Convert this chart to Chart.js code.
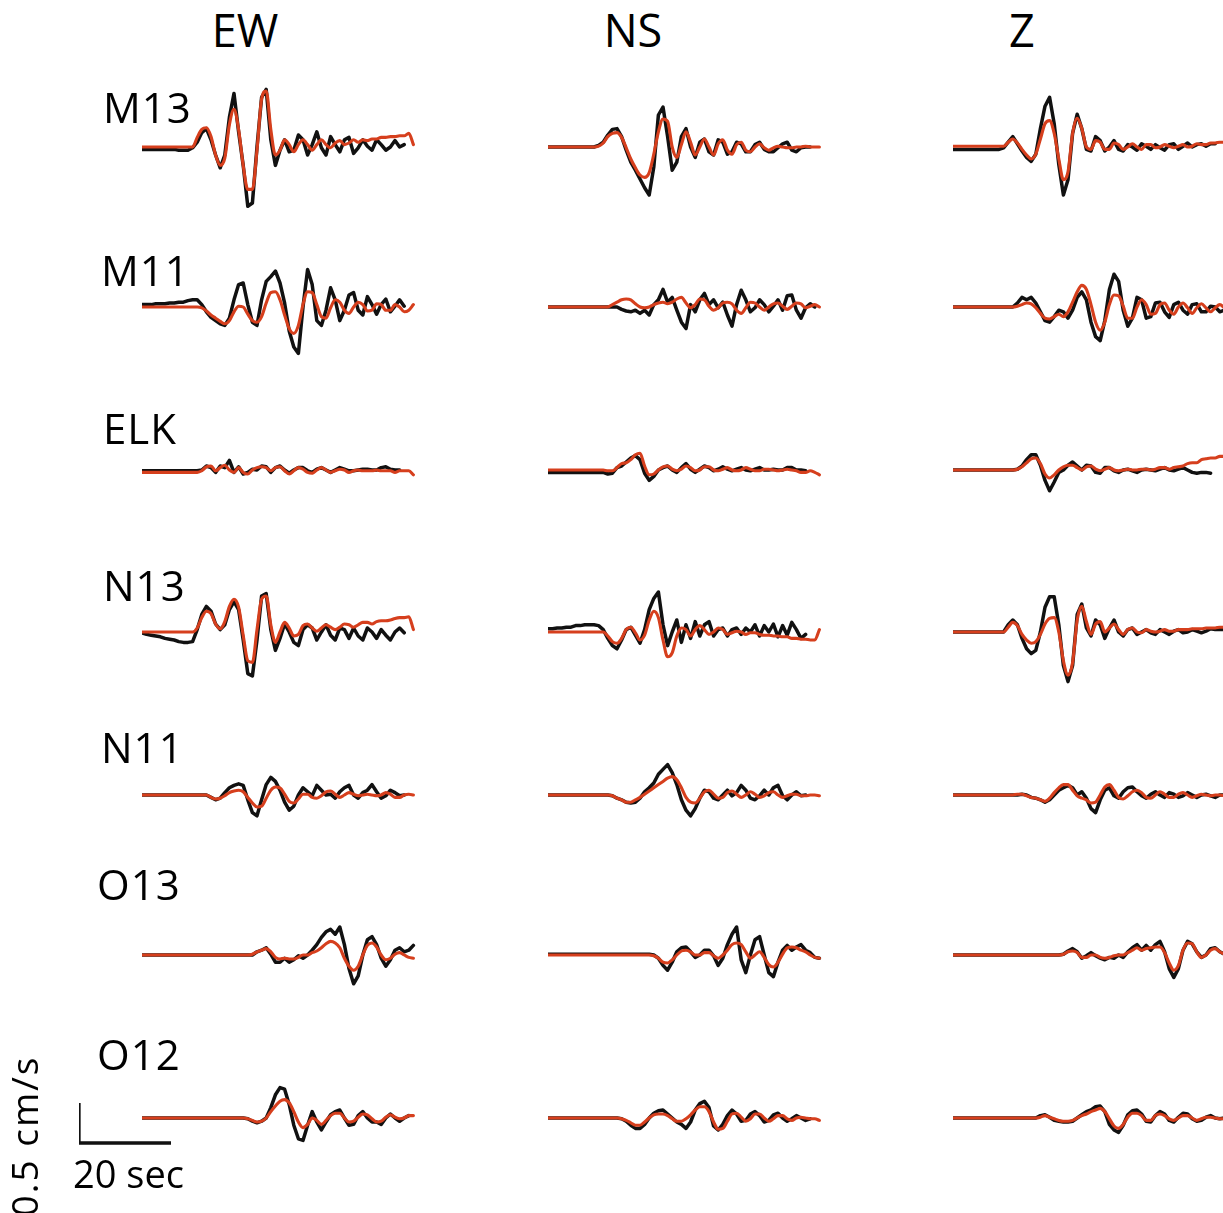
<!DOCTYPE html>
<html>
<head>
<meta charset="utf-8">
<script src="https://cdn.jsdelivr.net/npm/chart.js@4.4.1/dist/chart.umd.min.js"></script>
<style>
html, body { margin: 0; padding: 0; background: #fff; }
body { width: 1223px; height: 1213px; position: relative; overflow: hidden; font-family: 'Open Sans', sans-serif; color: #000; }
.panel { position: absolute; }
.lbl { position: absolute; line-height: 1; white-space: nowrap; }
.hdr { font-size: 45px; transform: translateX(-50%); }
.sta { font-size: 42px; letter-spacing: 1px; }
</style>
</head>
<body>
<script>
// time axis of every trace (s), one sample per second
const times = [0,1,2,3,4,5,6,7,8,9,10,11,12,13,14,15,16,17,18,19,20,21,22,23,24,25,26,27,28,29,
  30,31,32,33,34,35,36,37,38,39,40,41,42,43,44,45,46,47,48,49,50,51,52,53,54,55,56,57,58,59];
const stations = ['M13', 'M11', 'ELK', 'N13', 'N11', 'O13', 'O12'];
const components = ['EW', 'NS', 'Z'];
const scaleBarSeconds = 20;
const scaleBarVelocity = 0.5;   // cm/s

// ground velocity (cm/s): obs = recorded (black), syn = synthetic (red)
const obsM13EW = [-0.03,-0.03,-0.03,-0.03,-0.03,-0.03,-0.03,-0.03,-0.04,-0.04,-0.04,-0.01,0.06,0.18,0.23,0.09,-0.10,-0.26,-0.10,0.37,
  0.67,0.19,-0.23,-0.74,-0.70,0.00,0.62,0.72,0.09,-0.23,-0.04,0.09,-0.06,-0.04,0.15,0.09,-0.10,0.03,0.19,-0.01,
  -0.10,0.13,0.03,-0.06,0.09,0.12,-0.08,-0.01,0.09,0.01,-0.04,0.09,0.03,-0.04,0.00,0.08,0.00,0.03,null,null];
const synM13EW = [0,0,0,0,0,0,0,0,0,0,0,0.00,0.12,0.22,0.24,0.13,-0.10,-0.23,-0.14,0.28,
  0.47,0.22,-0.23,-0.53,-0.53,-0.04,0.60,0.70,0.22,-0.10,-0.04,0.09,0.03,-0.06,0.03,0.09,0.03,-0.04,0.03,0.09,
  0.03,-0.01,0.05,0.08,0.03,0.05,0.09,0.06,0.09,0.08,0.10,0.10,0.12,0.12,0.13,0.13,0.14,0.14,0.17,0.03];
const obsM13NS = [0,0,0,0,0,0,0,0,0,0,0,0.02,0.06,0.15,0.22,0.23,0.13,-0.04,-0.19,-0.29,
  -0.40,-0.51,-0.60,-0.25,0.40,0.50,0.13,-0.29,-0.19,0.13,0.23,0.00,-0.13,0.06,0.10,-0.06,-0.10,0.09,0.06,-0.09,
  -0.06,0.06,0.04,-0.06,-0.06,0.03,0.06,-0.03,-0.06,-0.06,-0.01,0.04,0.06,-0.04,-0.06,-0.01,0.00,0.00,null,null];
const synM13NS = [0,0,0,0,0,0,0,0,0,0,0,0.01,0.05,0.13,0.17,0.18,0.12,-0.01,-0.15,-0.26,
  -0.35,-0.38,-0.32,-0.09,0.19,0.35,0.32,0.00,-0.13,0.03,0.19,0.06,-0.10,0.00,0.10,0.00,-0.10,0.04,0.09,-0.04,
  -0.09,0.03,0.06,-0.04,-0.06,0.00,0.04,-0.01,-0.04,-0.01,0.01,0.00,-0.01,-0.01,0.00,0.00,0.01,0.00,0.00,0.00];
const obsM13Z = [-0.03,-0.03,-0.03,-0.03,-0.03,-0.03,-0.03,-0.03,-0.03,-0.03,-0.03,-0.01,0.06,0.13,0.04,-0.05,-0.13,-0.18,-0.09,0.23,
  0.51,0.62,0.29,-0.22,-0.60,-0.41,0.17,0.41,0.23,-0.03,-0.05,0.13,0.08,-0.05,0.00,0.08,-0.03,-0.05,0.03,0.00,
  -0.04,0.04,0.01,-0.03,0.03,-0.01,-0.04,0.03,0.04,-0.03,0.01,0.05,0.00,0.03,0.04,0.01,0.04,0.04,null,null];
const synM13Z = [0.01,0.01,0.01,0.01,0.01,0.01,0.01,0.01,0.01,0.01,0.01,0.01,0.06,0.10,0.05,-0.03,-0.10,-0.15,-0.09,0.10,
  0.29,0.33,0.17,-0.15,-0.41,-0.31,0.17,0.36,0.23,0.00,-0.03,0.08,0.06,-0.03,-0.03,0.05,0.03,-0.03,0.00,0.04,
  0.00,-0.03,0.03,0.03,-0.01,0.00,0.03,0.01,-0.01,0.01,0.03,0.00,0.01,0.04,0.03,0.03,0.05,0.05,0.06,0.06];

const obsM11EW = [0.03,0.03,0.03,0.04,0.04,0.04,0.05,0.05,0.06,0.06,0.08,0.09,0.09,0.03,-0.06,-0.13,-0.17,-0.21,-0.23,-0.14,
  0.09,0.28,0.30,0.03,-0.19,-0.23,0.09,0.32,0.38,0.45,0.30,0.05,-0.30,-0.50,-0.58,0.00,0.47,0.28,-0.17,-0.23,
  -0.04,0.24,0.09,-0.17,-0.04,0.15,0.18,-0.04,-0.10,0.13,0.03,-0.09,0.03,0.10,-0.06,0.01,0.09,0.01,null,null];
const synM11EW = [0,0,0,0,0,0,0,0,0,0,0,0,0,-0.01,-0.05,-0.10,-0.14,-0.18,-0.21,-0.17,
  -0.06,0.01,0.00,-0.09,-0.17,-0.19,-0.12,0.05,0.18,0.19,0.09,-0.10,-0.27,-0.33,-0.23,0.03,0.19,0.18,0.03,-0.12,
  -0.14,-0.01,0.09,0.06,-0.04,-0.08,0.00,0.06,0.03,-0.05,-0.04,0.04,0.03,-0.04,-0.04,0.03,0.00,-0.06,-0.04,0.03];
const obsM11NS = [0,0,0,0,0,0,0,0,0,0,0,0,0,0,0,0,-0.03,-0.05,-0.06,-0.04,
  -0.08,-0.04,-0.10,0.03,0.09,0.22,0.06,0.12,-0.04,-0.19,-0.27,0.03,-0.06,0.09,0.17,0.03,0.09,-0.01,0.06,-0.10,
  -0.24,0.03,0.21,0.09,-0.06,-0.01,0.09,0.03,-0.06,0.01,0.09,-0.04,0.14,0.15,-0.04,-0.14,-0.01,0.04,0.00,null];
const synM11NS = [0,0,0,0,0,0,0,0,0,0,0,0,0,0,0.03,0.06,0.09,0.10,0.09,0.04,
  0.00,-0.01,0.00,0.03,0.05,0.06,0.04,0.06,0.10,0.12,0.05,-0.01,0.03,0.10,0.09,0.01,-0.04,-0.01,0.05,0.06,
  0.04,-0.04,-0.08,-0.01,0.06,0.05,0.00,-0.04,0.00,0.04,0.05,0.01,-0.03,0.01,0.05,0.04,-0.01,0.01,0.03,0.00];
const obsM11Z = [0,0,0,0,0,0,0,0,0,0,0,0,0,0,0.05,0.12,0.09,0.12,0.05,-0.06,
  -0.17,-0.19,-0.12,-0.04,-0.06,-0.14,-0.04,0.12,0.19,0.09,-0.19,-0.37,-0.42,-0.17,0.22,0.41,0.32,-0.04,-0.24,-0.14,
  0.12,0.09,-0.14,-0.12,0.05,0.06,-0.06,-0.13,0.03,0.06,-0.04,-0.09,0.03,0.04,-0.06,-0.06,0.01,0.00,-0.06,-0.04];
const synM11Z = [0,0,0,0,0,0,0,0,0,0,0,0,0,0,0.01,0.03,0.05,0.04,-0.01,-0.08,
  -0.14,-0.15,-0.12,-0.09,-0.12,-0.06,0.06,0.19,0.27,0.22,0.03,-0.19,-0.29,-0.19,0.03,0.15,0.14,0.01,-0.14,-0.14,
  0.00,0.09,0.03,-0.09,-0.08,0.03,0.05,-0.04,-0.09,0.00,0.05,-0.01,-0.08,-0.01,0.04,-0.01,-0.06,-0.01,0.03,-0.01];

const obsELKEW = [-0.01,-0.01,-0.01,-0.01,-0.01,-0.01,-0.01,-0.01,-0.01,-0.01,-0.01,-0.01,-0.01,0.00,0.05,0.03,-0.03,0.05,0.03,0.12,
  -0.03,0.04,-0.05,-0.03,0.01,0.00,0.05,0.04,-0.03,0.03,0.05,0.00,-0.04,0.00,0.03,0.03,-0.01,-0.03,0.01,0.03,
  0.00,-0.03,0.00,0.03,0.01,-0.01,-0.01,0.00,0.01,0.01,0.00,0.00,0.03,0.04,0.01,0.00,0.00,null,null,null];
const synELKEW = [-0.03,-0.03,-0.03,-0.03,-0.03,-0.03,-0.03,-0.03,-0.03,-0.03,-0.03,-0.03,-0.03,-0.01,0.04,0.05,-0.01,0.03,0.06,0.00,
  -0.03,0.03,-0.03,-0.05,0.00,0.03,0.04,0.03,-0.01,0.03,0.04,-0.01,-0.05,-0.01,0.03,0.01,-0.03,-0.04,0.00,0.03,
  0.00,-0.03,-0.01,0.01,0.00,-0.03,-0.01,0.00,-0.01,-0.01,-0.01,0.00,-0.01,-0.01,-0.01,-0.03,-0.01,-0.01,-0.01,-0.06];
const obsELKNS = [-0.03,-0.03,-0.03,-0.03,-0.03,-0.03,-0.03,-0.03,-0.03,-0.03,-0.03,-0.03,-0.03,-0.05,-0.04,0.03,0.05,0.10,0.15,0.18,
  0.13,-0.04,-0.13,-0.08,0.00,0.03,0.05,0.00,-0.03,0.03,0.08,0.01,-0.03,0.01,0.05,0.03,-0.01,0.01,0.04,0.01,
  -0.01,0.01,0.03,0.00,-0.01,0.01,0.03,0.00,0.00,0.01,0.00,0.00,0.03,0.03,0.00,0.00,-0.01,null,null,null];
const synELKNS = [0,0,0,0,0,0,0,0,0,0,0,0,0,-0.01,-0.01,0.03,0.08,0.09,0.13,0.19,
  0.21,0.05,-0.06,-0.05,0.00,0.04,0.05,0.01,-0.01,0.01,0.05,0.03,-0.01,0.00,0.04,0.04,0.00,-0.01,0.01,0.03,
  0.00,-0.01,0.00,0.03,0.01,-0.01,-0.01,0.01,0.01,0.00,-0.01,0.00,0.01,0.00,-0.01,-0.03,-0.03,-0.01,-0.03,-0.06];
const obsELKZ = [0,0,0,0,0,0,0,0,0,0,0,0,0,0,0.01,0.05,0.13,0.19,0.19,0.06,
  -0.13,-0.26,-0.15,-0.03,0.00,0.06,0.10,0.05,0.00,0.06,0.05,-0.03,-0.04,0.03,0.03,-0.01,-0.03,0.00,0.01,-0.01,
  -0.03,0.00,0.01,0.00,-0.01,0.01,0.03,0.00,-0.01,0.01,0.03,0.00,-0.03,-0.04,-0.03,-0.03,-0.04,null,null,null];
const synELKZ = [0,0,0,0,0,0,0,0,0,0,0,0,0,0,0.01,0.04,0.09,0.14,0.15,0.08,
  -0.05,-0.10,-0.06,0.00,0.04,0.06,0.06,0.03,0.00,0.04,0.05,0.01,-0.01,0.01,0.03,0.00,-0.01,0.00,0.01,0.00,
  0.00,0.01,0.01,0.00,0.01,0.03,0.03,0.01,0.03,0.04,0.05,0.08,0.09,0.09,0.13,0.14,0.15,0.15,0.17,0.17];

const obsN13EW = [-0.01,-0.03,-0.04,-0.05,-0.06,-0.08,-0.09,-0.10,-0.12,-0.13,-0.13,-0.12,0.03,0.22,0.32,0.26,0.10,0.03,0.09,0.28,
  0.38,0.28,-0.10,-0.52,-0.55,-0.10,0.45,0.48,0.03,-0.23,-0.08,0.10,0.00,-0.13,-0.17,0.03,0.09,0.05,-0.10,0.00,
  0.09,-0.04,-0.10,0.05,0.03,-0.08,0.05,-0.05,-0.10,0.05,0.00,-0.08,0.03,-0.04,-0.10,0.00,0.05,-0.01,null,null];
const synN13EW = [0,0,0,0,0,0,0,0,0,0,0,0,0.05,0.18,0.26,0.23,0.10,0.04,0.13,0.32,
  0.41,0.31,-0.04,-0.36,-0.38,0.03,0.41,0.45,0.09,-0.13,0.00,0.12,0.05,-0.05,-0.03,0.08,0.10,0.05,0.01,0.05,
  0.09,0.06,0.03,0.06,0.10,0.09,0.06,0.09,0.12,0.12,0.10,0.13,0.14,0.14,0.15,0.17,0.18,0.18,0.19,0.03];
const obsN13NS = [0.04,0.04,0.05,0.05,0.06,0.06,0.08,0.08,0.09,0.09,0.09,0.08,0.03,-0.08,-0.17,-0.21,-0.10,0.03,0.06,-0.04,
  -0.14,0.03,0.28,0.42,0.50,0.09,-0.17,0.00,0.15,-0.13,0.09,-0.08,0.13,-0.05,0.09,0.13,-0.05,0.03,0.05,-0.05,
  0.03,0.05,-0.03,0.05,0.00,0.09,-0.05,0.08,0.00,0.10,-0.06,0.08,-0.04,0.12,0.03,-0.08,-0.03,null,null,null];
const synN13NS = [0,0,0,0,0,0,0,0,0,0,0,0,0,-0.05,-0.12,-0.14,-0.08,0.03,0.06,-0.01,
  -0.10,-0.04,0.15,0.26,0.18,-0.10,-0.31,-0.26,-0.05,0.05,0.03,-0.05,0.03,0.08,0.03,-0.03,0.00,0.05,0.03,-0.03,
  -0.01,0.01,0.00,-0.03,-0.01,-0.01,-0.03,-0.04,-0.04,-0.05,-0.05,-0.06,-0.06,-0.08,-0.08,-0.09,-0.09,-0.10,-0.10,0.03];
const obsN13Z = [0,0,0,0,0,0,0,0,0,0,0,0,0.09,0.15,0.09,-0.08,-0.21,-0.27,-0.23,0.00,
  0.31,0.44,0.44,0.09,-0.42,-0.62,-0.42,0.22,0.35,0.05,-0.05,0.15,0.09,-0.08,0.05,0.15,0.00,-0.05,0.03,0.05,
  -0.03,0.00,0.03,-0.01,-0.03,0.03,0.00,-0.03,0.01,0.03,-0.01,0.00,0.03,0.01,-0.01,0.01,0.04,0.03,0.03,0.03];
const synN13Z = [0,0,0,0,0,0,0,0,0,0,0,0,0.06,0.12,0.08,-0.03,-0.10,-0.14,-0.12,-0.03,
  0.10,0.17,0.18,0.00,-0.36,-0.54,-0.38,0.15,0.32,0.13,-0.03,0.10,0.13,0.00,0.05,0.10,0.03,-0.03,0.03,0.05,
  0.00,-0.01,0.03,0.01,0.00,0.01,0.03,0.01,0.01,0.03,0.03,0.03,0.04,0.04,0.04,0.05,0.05,0.05,0.06,0.06];

const obsN11EW = [0,0,0,0,0,0,0,0,0,0,0,0,0,0,0,-0.03,-0.06,-0.04,0.03,0.09,
  0.12,0.14,0.12,-0.06,-0.22,-0.26,-0.06,0.13,0.22,0.17,0.06,-0.09,-0.19,-0.14,0.00,0.09,0.04,-0.01,0.12,0.06,
  0.00,0.01,-0.04,0.04,0.09,0.12,0.00,-0.04,0.03,0.06,0.13,0.04,-0.04,-0.01,0.06,0.03,-0.01,0.00,null,null];
const synN11EW = [0,0,0,0,0,0,0,0,0,0,0,0,0,0,0,-0.03,-0.05,-0.04,-0.01,0.03,
  0.05,0.06,0.04,-0.03,-0.10,-0.15,-0.14,-0.04,0.06,0.10,0.09,0.01,-0.08,-0.10,-0.05,0.01,0.01,-0.03,-0.04,-0.01,
  0.04,0.05,0.01,-0.03,0.00,0.03,0.01,-0.01,0.00,0.01,0.00,-0.01,0.00,0.03,0.01,-0.03,-0.03,0.00,0.01,0.00];
const obsN11NS = [0,0,0,0,0,0,0,0,0,0,0,0,0,0,-0.01,-0.04,-0.06,-0.09,-0.10,-0.09,
  -0.04,0.04,0.09,0.15,0.26,0.32,0.38,0.28,0.13,-0.06,-0.19,-0.26,-0.17,-0.04,0.06,0.04,-0.04,-0.06,0.00,0.06,
  -0.01,0.03,0.12,0.06,-0.04,-0.06,-0.01,0.06,0.00,0.09,0.12,-0.01,-0.06,0.00,0.04,-0.01,0.00,null,null,null];
const synN11NS = [0,0,0,0,0,0,0,0,0,0,0,0,0,0,-0.01,-0.04,-0.06,-0.09,-0.09,-0.06,
  -0.03,0.01,0.05,0.09,0.13,0.17,0.21,0.23,0.19,0.09,-0.03,-0.09,-0.10,-0.04,0.04,0.06,0.01,-0.04,-0.03,0.03,
  0.05,0.01,-0.03,0.00,0.04,0.01,-0.03,-0.01,0.03,0.04,0.00,-0.03,-0.01,0.01,0.01,-0.01,-0.01,0.00,0.00,-0.01];
const obsN11Z = [0,0,0,0,0,0,0,0,0,0,0,0,0,0,0,0.01,0.00,-0.03,-0.04,-0.06,
  -0.09,-0.06,0.00,0.06,0.09,0.12,0.09,0.00,0.04,-0.04,-0.17,-0.22,-0.06,0.06,0.09,-0.01,-0.04,0.04,0.09,0.10,
  0.04,-0.01,-0.04,0.01,0.04,0.00,-0.03,0.03,0.01,-0.03,-0.01,0.03,0.00,-0.03,0.00,0.01,-0.01,-0.03,0.00,0.00];
const synN11Z = [0,0,0,0,0,0,0,0,0,0,0,0,0,0,0.01,0.01,-0.01,-0.03,-0.04,-0.06,
  -0.08,-0.04,0.03,0.09,0.13,0.13,0.06,-0.01,-0.04,-0.06,-0.10,-0.09,0.00,0.10,0.13,0.06,-0.03,-0.05,-0.01,0.04,
  0.06,0.03,-0.03,-0.04,0.00,0.04,0.01,-0.03,-0.03,0.01,0.03,0.00,-0.03,-0.01,0.01,0.00,-0.01,0.00,0.00,-0.01];

const obsO13EW = [0,0,0,0,0,0,0,0,0,0,0,0,0,0,0,0,0,0,0,0,
  0,0,0,0,0,0.04,0.06,0.09,0.01,-0.09,-0.09,-0.04,-0.09,-0.06,-0.01,-0.04,0.00,0.06,0.13,0.22,
  0.29,0.32,0.26,0.35,0.13,-0.17,-0.36,-0.26,0.00,0.19,0.23,0.13,-0.04,-0.14,-0.06,0.06,0.09,0.04,0.06,0.12];
const synO13EW = [0,0,0,0,0,0,0,0,0,0,0,0,0,0,0,0,0,0,0,0,
  0,0,0,0,0.01,0.04,0.06,0.08,0.04,-0.03,-0.05,-0.04,-0.05,-0.05,-0.03,0.00,0.00,0.03,0.05,0.09,
  0.14,0.17,0.15,0.09,-0.04,-0.14,-0.19,-0.14,0.00,0.12,0.15,0.10,0.00,-0.06,-0.04,0.01,0.03,0.00,-0.03,-0.04];
const obsO13NS = [0.01,0.01,0.01,0.01,0.01,0.01,0.01,0.01,0.01,0.01,0.01,0.01,0.01,0.01,0.01,0.01,0.01,0.01,0.01,0.01,
  0.01,0.01,0.01,0.00,-0.04,-0.13,-0.19,-0.09,0.04,0.09,0.10,0.04,-0.03,0.00,0.06,0.06,-0.01,-0.13,-0.04,0.13,
  0.26,0.35,-0.06,-0.22,0.00,0.19,0.23,0.00,-0.22,-0.27,-0.09,0.06,0.12,0.06,0.10,0.13,0.06,0.03,-0.03,-0.04];
const synO13NS = [0,0,0,0,0,0,0,0,0,0,0,0,0,0,0,0,0,0,0,0,
  0,0,0,-0.01,-0.04,-0.09,-0.10,-0.06,0.00,0.05,0.06,0.04,0.00,0.00,0.03,0.03,-0.01,-0.04,0.00,0.06,
  0.13,0.15,0.13,0.04,-0.04,0.00,0.04,-0.03,-0.12,-0.15,-0.09,0.01,0.09,0.10,0.09,0.06,0.04,0.00,-0.03,-0.04];
const obsO13Z = [0,0,0,0,0,0,0,0,0,0,0,0,0,0,0,0,0,0,0,0,
  0,0,0,0,0.01,0.05,0.08,0.04,-0.04,-0.01,0.03,-0.01,-0.04,-0.06,-0.03,-0.04,0.00,-0.03,0.04,0.09,
  0.13,0.06,0.12,0.06,0.13,0.17,0.04,-0.17,-0.28,-0.17,0.06,0.17,0.14,0.04,-0.03,0.00,0.08,0.09,0.04,0.01];
const synO13Z = [0,0,0,0,0,0,0,0,0,0,0,0,0,0,0,0,0,0,0,0,
  0,0,0,0,0.01,0.04,0.05,0.03,-0.03,-0.03,0.00,0.00,-0.03,-0.04,-0.03,-0.01,0.00,0.00,0.03,0.06,
  0.09,0.06,0.08,0.09,0.10,0.10,0.03,-0.10,-0.19,-0.13,0.06,0.15,0.14,0.04,-0.03,0.00,0.06,0.08,0.04,0.01];

const obsO12EW = [0,0,0,0,0,0,0,0,0,0,0,0,0,0,0,0,0,0,0,0,
  0,0,0,-0.01,-0.04,-0.06,-0.04,0.00,0.13,0.29,0.38,0.36,0.17,-0.09,-0.26,-0.28,-0.09,0.08,-0.05,-0.15,
  -0.05,0.04,0.08,0.10,0.00,-0.09,-0.08,0.03,0.08,0.00,-0.05,-0.05,-0.08,0.00,0.05,0.00,-0.04,0.00,0.03,null];
const synO12EW = [0,0,0,0,0,0,0,0,0,0,0,0,0,0,0,0,0,0,0,0,
  0,0,0,-0.01,-0.03,-0.05,-0.04,0.00,0.08,0.15,0.21,0.23,0.19,0.08,-0.05,-0.12,-0.08,0.00,-0.03,-0.08,
  -0.03,0.03,0.06,0.06,0.00,-0.05,-0.04,0.01,0.05,0.04,-0.01,-0.05,-0.04,0.01,0.04,0.01,-0.01,0.00,0.03,0.03];
const obsO12NS = [0,0,0,0,0,0,0,0,0,0,0,0,0,0,0,0,-0.01,-0.04,-0.09,-0.13,
  -0.13,-0.08,0.00,0.06,0.09,0.10,0.05,0.00,-0.05,-0.08,-0.13,-0.05,0.10,0.18,0.21,0.13,-0.10,-0.15,-0.08,0.03,
  0.10,0.05,-0.04,-0.03,0.05,0.08,0.03,-0.05,-0.03,0.04,0.06,0.00,-0.04,-0.01,0.03,0.00,-0.03,-0.01,null,null];
const synO12NS = [0,0,0,0,0,0,0,0,0,0,0,0,0,0,0,0,-0.01,-0.03,-0.06,-0.09,
  -0.09,-0.05,0.00,0.04,0.05,0.05,0.03,-0.01,-0.04,-0.04,-0.01,0.04,0.10,0.14,0.14,0.08,-0.05,-0.14,-0.13,-0.04,
  0.05,0.06,0.01,-0.04,-0.01,0.05,0.05,0.00,-0.04,-0.01,0.03,0.03,-0.01,-0.03,0.00,0.01,0.00,-0.01,-0.01,-0.03];
const obsO12Z = [0,0,0,0,0,0,0,0,0,0,0,0,0,0,0,0,0,0,0.00,0.03,
  0.04,0.01,-0.03,-0.04,-0.05,-0.05,-0.04,0.00,0.04,0.08,0.10,0.14,0.15,0.08,-0.08,-0.15,-0.18,-0.09,0.04,0.09,
  0.10,0.05,-0.04,-0.05,0.03,0.08,0.05,-0.03,-0.05,0.01,0.06,0.05,-0.01,-0.04,-0.03,0.01,0.03,0.00,-0.01,0.00];
const synO12Z = [0,0,0,0,0,0,0,0,0,0,0,0,0,0,0,0,0,0,0.00,0.01,
  0.03,0.01,-0.01,-0.03,-0.04,-0.04,-0.03,0.00,0.03,0.05,0.08,0.10,0.12,0.08,-0.01,-0.10,-0.13,-0.08,0.01,0.06,
  0.06,0.03,-0.03,-0.03,0.03,0.05,0.03,-0.01,-0.03,0.00,0.03,0.03,0.00,-0.03,-0.01,0.01,0.01,0.00,-0.01,-0.01];

// station -> component -> [observed, synthetic]
const traces = {
  M13: { EW: [obsM13EW, synM13EW], NS: [obsM13NS, synM13NS], Z: [obsM13Z, synM13Z] },
  M11: { EW: [obsM11EW, synM11EW], NS: [obsM11NS, synM11NS], Z: [obsM11Z, synM11Z] },
  ELK: { EW: [obsELKEW, synELKEW], NS: [obsELKNS, synELKNS], Z: [obsELKZ, synELKZ] },
  N13: { EW: [obsN13EW, synN13EW], NS: [obsN13NS, synN13NS], Z: [obsN13Z, synN13Z] },
  N11: { EW: [obsN11EW, synN11EW], NS: [obsN11NS, synN11NS], Z: [obsN11Z, synN11Z] },
  O13: { EW: [obsO13EW, synO13EW], NS: [obsO13NS, synO13NS], Z: [obsO13Z, synO13Z] },
  O12: { EW: [obsO12EW, synO12EW], NS: [obsO12NS, synO12NS], Z: [obsO12Z, synO12Z] }
};

// page layout (px)
const colLeft = [142, 548, 953];
const rowBaseline = [147, 307, 470, 632, 795, 955, 1118];
const headerCenter = [245, 633, 1022];
const stationLabelPos = [[103, 123], [101, 286], [103, 444], [103, 601], [101, 763], [97, 900], [97, 1070]];
const PX_PER_SEC = 4.6;
const PX_PER_UNIT = 80;
const X_SPAN = 60;
const Y_SPAN = 1;
const BLACK = '#111111';
const RED = '#d63f1d';

function addLabel(text, cls, left, baseline, size) {
  const d = document.createElement('div');
  d.className = 'lbl ' + cls;
  d.textContent = text;
  d.style.left = left + 'px';
  d.style.top = (baseline - 0.888 * size) + 'px';
  document.body.appendChild(d);
  return d;
}

function makePanel(left, baseline, datasets) {
  const w = X_SPAN * PX_PER_SEC, h = 2 * Y_SPAN * PX_PER_UNIT;
  const box = document.createElement('div');
  box.className = 'panel';
  box.style.left = left + 'px';
  box.style.top = (baseline - Y_SPAN * PX_PER_UNIT) + 'px';
  box.style.width = w + 'px';
  box.style.height = h + 'px';
  const cv = document.createElement('canvas');
  cv.width = w; cv.height = h;
  box.appendChild(cv);
  document.body.appendChild(box);
  new Chart(cv.getContext('2d'), {
    type: 'line',
    data: { datasets: datasets },
    options: {
      responsive: false,
      animation: false,
      events: [],
      layout: { padding: 0 },
      plugins: { legend: { display: false }, tooltip: { enabled: false } },
      elements: { point: { radius: 0 }, line: { borderCapStyle: 'round', borderJoinStyle: 'round' } },
      scales: {
        x: { type: 'linear', min: 0, max: X_SPAN, display: false },
        y: { type: 'linear', min: -Y_SPAN, max: Y_SPAN, display: false }
      }
    }
  });
}

const toPoints = vals => times.map((t, i) => ({ x: t, y: vals[i] }));

stations.forEach((st, r) => {
  components.forEach((comp, c) => {
    const [obs, syn] = traces[st][comp];
    if (obs.length !== times.length || syn.length !== times.length)
      throw new Error('bad length ' + st + ' ' + comp + ' ' + obs.length + '/' + syn.length);
    makePanel(colLeft[c], rowBaseline[r], [
      { data: toPoints(syn), borderColor: RED, borderWidth: 3.1, cubicInterpolationMode: 'monotone', clip: false, order: 0 },
      { data: toPoints(obs), borderColor: BLACK, borderWidth: 3.5, tension: 0, clip: false, order: 1 }
    ]);
  });
  addLabel(st, 'sta', stationLabelPos[r][0], stationLabelPos[r][1], 42);
});

components.forEach((comp, c) => addLabel(comp, 'hdr', headerCenter[c], 47, 45));

// scale bar drawn through the same scales as the traces
makePanel(79, 1143, [{
  data: [{ x: 0, y: scaleBarVelocity }, { x: 0, y: 0 }, { x: scaleBarSeconds, y: 0 }],
  borderColor: BLACK, borderWidth: 3.3, tension: 0, clip: false,
  borderCapStyle: 'butt', borderJoinStyle: 'miter'
}]);

const secLbl = addLabel(scaleBarSeconds + ' sec', '', 73, 1188, 38);
secLbl.style.fontSize = '38px';

const velLbl = document.createElement('div');
velLbl.className = 'lbl';
velLbl.textContent = scaleBarVelocity + ' cm/s';
velLbl.style.fontSize = '37px';
velLbl.style.letterSpacing = '2px';
velLbl.style.left = '23px';
velLbl.style.top = '1136px';
velLbl.style.transform = 'translate(-50%, -50%) rotate(-90deg)';
document.body.appendChild(velLbl);
</script>
</body>
</html>
